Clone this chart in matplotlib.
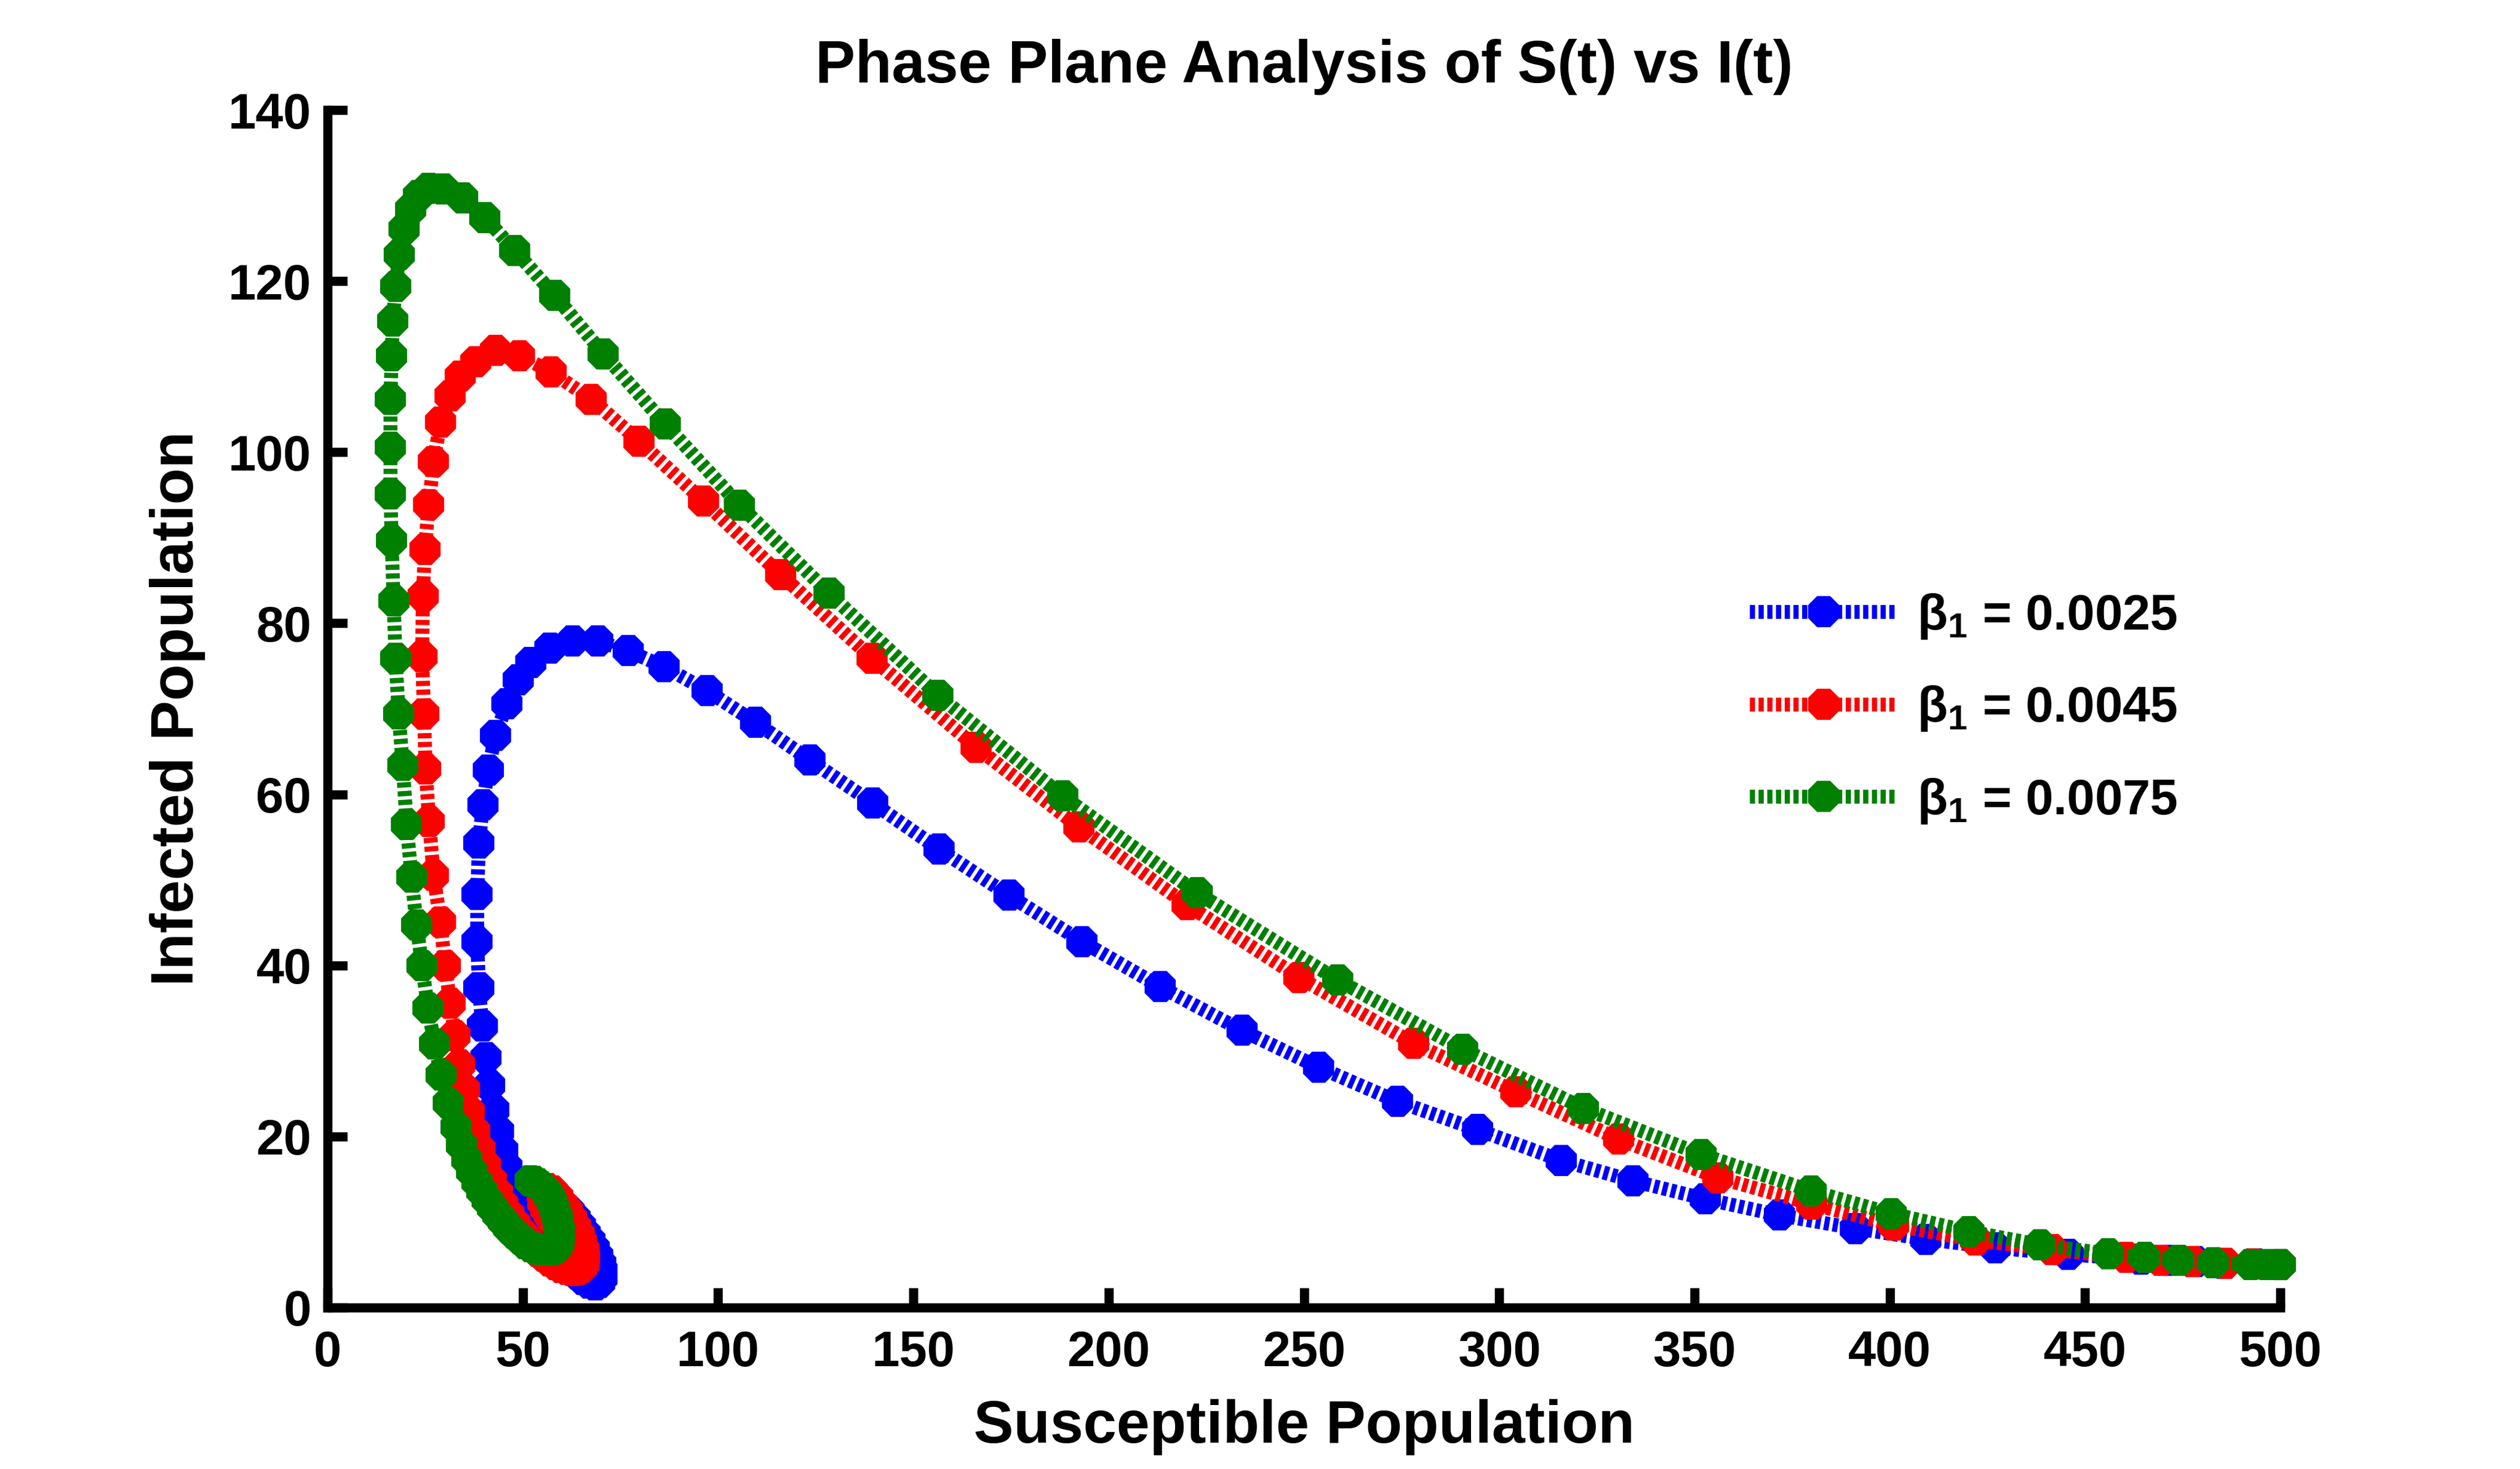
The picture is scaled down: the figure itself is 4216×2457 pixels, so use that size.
import matplotlib
matplotlib.use("Agg")
import matplotlib.pyplot as plt

# ---------------- data ----------------
S_b1 = [500.0, 493.5, 485.5, 478.3, 471.4, 464.3, 445.6, 427.0, 409.2, 391.2, 371.7, 352.7,
        334.3, 315.9, 294.4, 273.9, 253.7, 234.1, 213.2, 193.1, 174.4, 156.5, 139.5, 123.5,
        109.6, 97.2, 86.2, 76.9, 69.1, 62.8, 56.9, 52.0, 48.8, 45.9, 43.0, 41.1, 39.75, 38.75,
        38.3, 38.3, 38.75, 39.6, 40.5, 41.5, 42.6, 43.7, 44.8, 45.9, 46.9, 47.9, 48.9, 50.0,
        51.4, 52.9, 54.5, 56.1, 57.7, 59.3, 60.9, 62.5, 64.0, 65.5, 67.0, 68.5, 69.7, 70.3,
        70.3, 69.9, 69.2, 68.3, 67.2, 66.0, 64.7, 63.3, 61.8, 60.2, 58.6, 57.1, 55.8]
I_b1 = [5.0, 5.1, 5.2, 5.35, 5.5, 5.65, 6.2, 7.0, 8.0, 9.25, 10.8, 12.7,
        14.8, 17.2, 20.8, 24.1, 28.1, 32.4, 37.5, 42.8, 48.2, 53.6, 59.0, 64.0,
        68.4, 72.1, 74.9, 76.8, 77.9, 77.9, 77.1, 75.4, 73.4, 70.6, 66.9, 62.85, 58.8, 54.3,
        48.3, 42.8, 37.4, 32.9, 29.2, 26.0, 23.1, 20.6, 18.4, 16.4, 14.6, 12.9, 11.3, 9.9,
        8.8, 7.9, 7.1, 6.4, 5.8, 5.3, 4.85, 4.4, 3.9, 3.3, 2.85, 2.65, 2.9, 3.5,
        4.3, 5.1, 6.0, 6.9, 7.8, 8.7, 9.6, 10.5, 11.3, 11.9, 12.2, 12.1, 11.6]

S_b2 = [500.0, 493.0, 485.9, 477.5, 469.4, 460.5, 441.5, 421.9, 400.9, 380.0, 355.9, 330.5,
        304.3, 278.0, 248.7, 220.0, 192.3, 166.1, 139.4, 116.0, 96.2, 79.7, 67.5, 57.2, 49.1,
        43.0, 37.9, 34.0, 31.3, 28.9, 27.15, 25.9, 24.9, 24.4, 24.2, 24.7, 25.1, 26.0, 27.15,
        28.9, 30.1, 31.4, 32.6, 33.8, 35.0, 36.3, 37.6, 39.0, 40.4, 41.9, 43.4, 44.9, 46.4,
        47.9, 49.4, 50.9, 52.4, 53.9, 55.4, 56.9, 58.4, 59.9, 61.3, 62.7, 64.0, 65.0, 65.6,
        65.8, 65.6, 65.1, 64.4, 63.5, 62.5, 61.4, 60.2, 58.9, 57.5, 56.1, 55.0, 55.1, 55.8,
        56.8, 57.7]
I_b2 = [5.0, 5.1, 5.2, 5.35, 5.55, 5.85, 6.78, 7.87, 9.65, 12.1, 15.2, 19.7,
        25.2, 30.9, 38.6, 47.1, 56.2, 65.5, 75.9, 85.7, 94.3, 101.3, 106.2, 109.4, 111.3,
        111.9, 110.6, 108.9, 106.6, 103.5, 98.9, 93.9, 88.6, 83.2, 76.1, 69.4, 63.0, 56.8, 50.5,
        45.1, 40.0, 35.6, 31.8, 28.4, 25.5, 22.9, 20.6, 18.5, 16.6, 14.9, 13.4, 12.1, 10.9,
        9.85, 8.9, 8.05, 7.3, 6.6, 6.0, 5.45, 5.0, 4.65, 4.45, 4.35, 4.4, 4.65, 5.2,
        5.9, 6.7, 7.6, 8.5, 9.45, 10.4, 11.3, 12.1, 12.9, 13.6, 13.9, 13.3, 12.3, 11.5,
        10.8, 10.1]

S_b3 = [500.0, 496.5, 492.4, 482.8, 474.0, 465.2, 455.9, 438.4, 420.3, 400.3, 379.8, 351.7,
        321.6, 290.6, 258.6, 222.6, 188.2, 156.2, 128.4, 105.5, 86.4, 70.6, 58.2, 47.9, 40.3,
        34.6, 29.5, 25.8, 23.3, 21.3, 19.6, 18.4, 17.4, 16.7, 16.4, 16.1, 16.1, 16.1, 16.4,
        16.9, 17.4, 18.2, 19.25, 20.25, 21.5, 22.8, 24.2, 25.7, 27.4, 29.05, 30.9, 32.9, 34.3,
        35.6, 36.9, 38.2, 39.5, 40.8, 42.2, 43.6, 45.0, 46.4, 47.8, 49.2, 50.6, 52.0, 53.4,
        54.8, 56.2, 57.5, 58.6, 59.2, 59.4, 59.35, 59.1, 58.7, 58.2, 57.5, 56.7, 55.8, 54.8,
        53.8, 52.8, 51.8]
I_b3 = [5.0, 5.0, 5.05, 5.26, 5.5, 5.85, 6.3, 7.34, 8.9, 11.0, 13.65, 17.9,
        23.3, 30.2, 38.3, 48.5, 59.8, 71.6, 83.5, 93.8, 103.3, 111.5, 118.3, 123.6, 127.4,
        129.7, 130.8, 130.85, 130.0, 128.4, 126.1, 123.1, 119.4, 115.3, 111.3, 106.2, 100.6, 95.1, 89.7,
        82.6, 75.9, 69.4, 63.4, 56.5, 50.3, 44.7, 40.0, 35.0, 30.8, 27.2, 23.9, 21.1, 19.0,
        17.3, 15.9, 14.7, 13.6, 12.6, 11.7, 10.85, 10.05, 9.3, 8.65, 8.05, 7.5, 7.1, 6.85,
        6.7, 6.68, 6.75, 7.0, 7.55, 8.3, 9.1, 9.9, 10.7, 11.5, 12.3, 13.0, 13.6, 14.1,
        14.5, 14.75, 14.85]

labels = [r"$\mathrm{\beta_1}$ = 0.0025", r"$\mathrm{\beta_1}$ = 0.0045", r"$\mathrm{\beta_1}$ = 0.0075"]
colors = ["#0000FF", "#FF0000", "#008000"]
x_ticks = [0, 50, 100, 150, 200, 250, 300, 350, 400, 450, 500]
y_ticks = [0, 20, 40, 60, 80, 100, 120, 140]

# ---------------- style ----------------
plt.rcParams["font.family"] = ["Liberation Sans", "DejaVu Sans"]
plt.rcParams["font.weight"] = "bold"
plt.rcParams["mathtext.fontset"] = "custom"
plt.rcParams["mathtext.rm"] = "Liberation Sans"
plt.rcParams["mathtext.it"] = "Liberation Sans:italic"
plt.rcParams["mathtext.bf"] = "Liberation Sans:bold"
plt.rcParams["lines.scale_dashes"] = False

fig = plt.figure(figsize=(4216 / 300, 2457 / 300), dpi=300)
ax = fig.add_axes([0.1300, 0.1099, 0.7749, 0.8152])

series = [(S_b1, I_b1), (S_b2, I_b2), (S_b3, I_b3)]
for (s, i), c, lab in zip(series, colors, labels):
    ax.plot(s, i, color=c, linewidth=5.6, linestyle=(0, (2.1, 1.4)),
            dash_capstyle="butt", marker="8", markersize=12.5,
            markerfacecolor=c, markeredgecolor=c, markeredgewidth=1.0,
            label=lab, clip_on=False)

ax.set_xlim(0, 500)
ax.set_ylim(0, 140)
ax.set_xticks(x_ticks)
ax.set_yticks(y_ticks)
for side in ("top", "right"):
    ax.spines[side].set_visible(False)
for side in ("left", "bottom"):
    ax.spines[side].set_linewidth(3.7)
ax.tick_params(axis="both", direction="in", length=8, width=3.7, labelsize=20)
ax.tick_params(axis="x", pad=9)
ax.tick_params(axis="y", pad=6.5)
for t in ax.get_xticklabels() + ax.get_yticklabels():
    t.set_fontweight("bold")

ax.set_xlabel("Susceptible Population", fontsize=24, fontweight="bold", labelpad=9)
ax.set_ylabel("Infected Population", fontsize=24, fontweight="bold", labelpad=9)
ax.set_title("Phase Plane Analysis of S(t) vs I(t)", fontsize=24, fontweight="bold", pad=11)

leg = ax.legend(loc="center left", bbox_to_anchor=(0.6943, 0.5177),
                bbox_transform=fig.transFigure, frameon=False,
                prop={"family": "Liberation Sans", "weight": "bold", "size": 20},
                handlelength=2.96, handletextpad=0.4, labelspacing=0.87,
                borderpad=0, borderaxespad=0, numpoints=1)

fig.savefig("out.png", dpi=300)
